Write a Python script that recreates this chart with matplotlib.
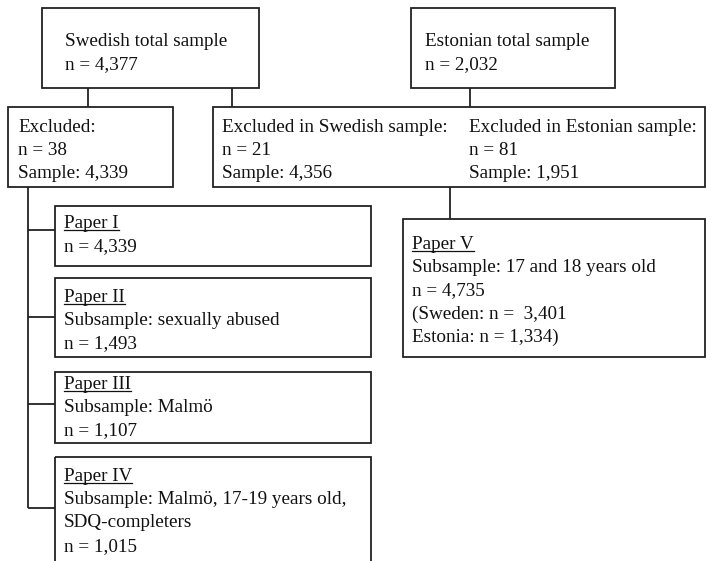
import matplotlib
matplotlib.use("Agg")
import matplotlib.pyplot as plt
from matplotlib.patches import Rectangle

W, H = 706, 561
FONT = ["Liberation Serif", "DejaVu Serif"]
FS = 13.8
LC = "#222222"
LW = 1.3

# ---- content (texts of each box) ----
swedish_total = ["Swedish total sample", "n = 4,377"]
estonian_total = ["Estonian total sample", "n = 2,032"]
excluded_left = ["Excluded:", "n = 38", "Sample: 4,339"]
excluded_swe = ["Excluded in Swedish sample:", "n = 21", "Sample: 4,356"]
excluded_est = ["Excluded in Estonian sample:", "n = 81", "Sample: 1,951"]
paper_titles = ["Paper I", "Paper II", "Paper III", "Paper IV", "Paper V"]
paper_lines = [
    ["n = 4,339"],
    ["Subsample: sexually abused", "n = 1,493"],
    ["Subsample: Malmö", "n = 1,107"],
    ["Subsample: Malmö, 17-19 years old,", "SDQ-completers", "n = 1,015"],
    ["Subsample: 17 and 18 years old", "n = 4,735", "(Sweden: n =  3,401", "Estonia: n = 1,334)"],
]

fig = plt.figure(figsize=(W / 100, H / 100), dpi=100)
ax = fig.add_axes([0, 0, 1, 1])
ax.set_xlim(0, W)
ax.set_ylim(H, 0)
ax.axis("off")

def box(x0, y0, x1, y1):
    ax.add_patch(Rectangle((x0, y0), x1 - x0, y1 - y0, fill=False,
                           edgecolor=LC, linewidth=LW, clip_on=True))

def line(xs, ys):
    ax.plot(xs, ys, color=LC, linewidth=LW, solid_capstyle="butt")

underlined = []

def lines_at(x, y0, texts, step=23.2, underline_first=False):
    for i, t in enumerate(texts):
        txt = ax.text(x, y0 + i * step + 6, t, fontsize=FS, family=FONT,
                      va="baseline", ha="left", color="#111111")
        if i == 0 and underline_first:
            underlined.append((txt, y0 + 6 + 2))

# top boxes
box(42, 8, 259, 88)
lines_at(65, 40, swedish_total)
box(411, 8, 615, 88)
lines_at(425, 40, estonian_total)

# connectors from top boxes
line([88, 88], [88, 107])
line([232, 232], [88, 107])
line([470, 470], [88, 107])

# second row
box(8, 107, 173, 187)
lines_at(18, 126, excluded_left)
box(213, 107, 704.5, 187)
lines_at(222, 126, excluded_swe)
lines_at(469, 126, excluded_est)

# left tree
papers_left = [(206, 266), (278, 357), (372, 443), (457, 575)]
title_y = [222, 296, 383, 475]
conn_y = [230, 317, 404, 508]
line([28, 28], [187, conn_y[-1]])
for i, (t, b) in enumerate(papers_left):
    box(55, t, 371, b)
    line([28, 55], [conn_y[i], conn_y[i]])
    lines_at(64, title_y[i], [paper_titles[i]] + paper_lines[i], underline_first=True)

# Paper V
line([450, 450], [187, 219])
box(403, 219, 704.5, 357)
lines_at(412, 243, [paper_titles[4]] + paper_lines[4], underline_first=True)

# underline titles
fig.canvas.draw()
r = fig.canvas.get_renderer()
inv = ax.transData.inverted()
for txt, yb in underlined:
    bb = txt.get_window_extent(r)
    (xa, _), (xb, _) = inv.transform([[bb.x0, bb.y0], [bb.x1, bb.y0]])
    ax.plot([xa, xb], [yb, yb], color="#111111", linewidth=0.9)

fig.savefig("out.png", dpi=100)
